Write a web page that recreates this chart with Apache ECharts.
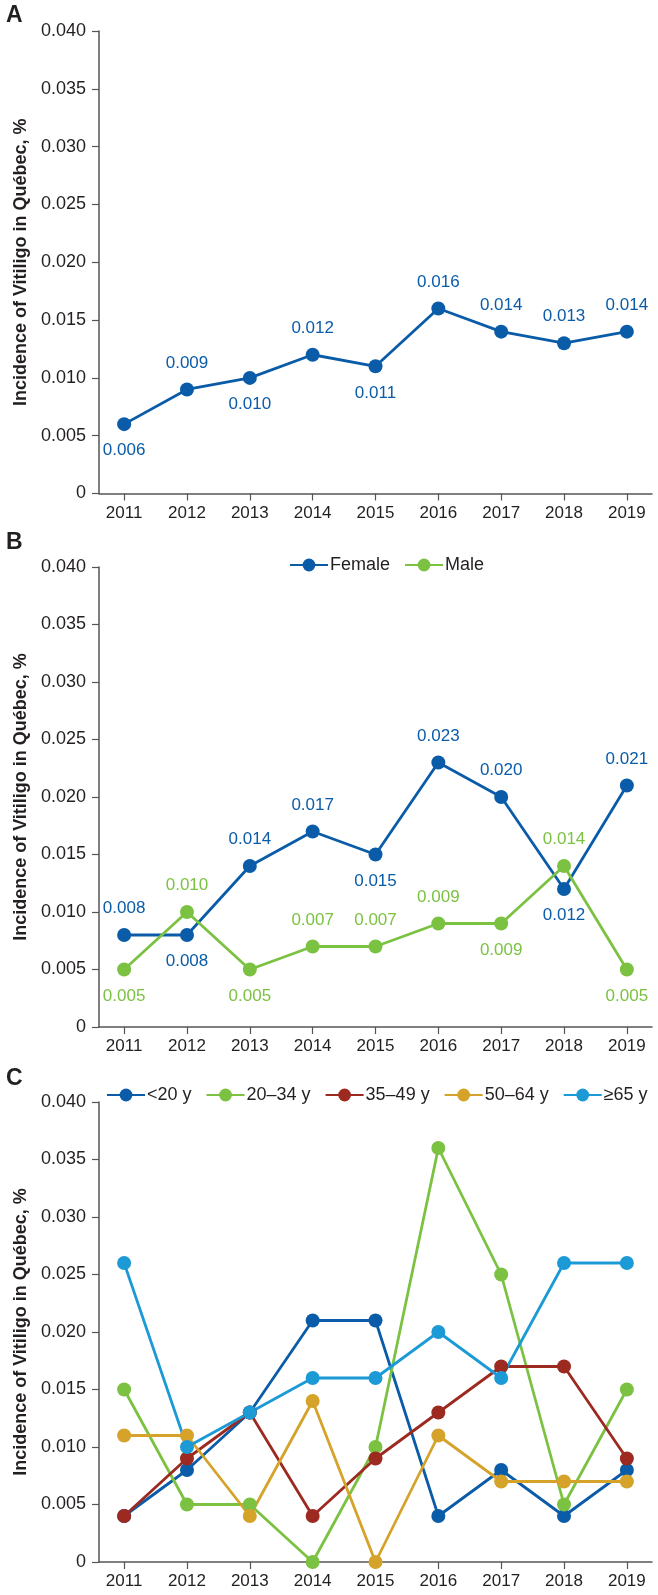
<!DOCTYPE html>
<html>
<head>
<meta charset="utf-8">
<script src="https://cdn.jsdelivr.net/npm/echarts@6/dist/echarts.min.js"></script>
<style>html,body{margin:0;padding:0;background:#fff}#c{width:658px;height:1595px}</style>
</head>
<body>
<div id="c"></div>
<script>
const years = [2011, 2012, 2013, 2014, 2015, 2016, 2017, 2018, 2019];
const yTicks = [0, 0.005, 0.010, 0.015, 0.020, 0.025, 0.030, 0.035, 0.040];

// Panel A – overall
const overall = [0.006, 0.009, 0.010, 0.012, 0.011, 0.016, 0.014, 0.013, 0.014];
const overallLabelPos = ['bottom','top','bottom','top','bottom','top','top','top','top'];

// Panel B – by sex
const female = [0.008, 0.008, 0.014, 0.017, 0.015, 0.023, 0.020, 0.012, 0.021];
const femaleLabelPos = ['top','bottom','top','top','bottom','top','top','bottom','top'];
const male = [0.005, 0.010, 0.005, 0.007, 0.007, 0.009, 0.009, 0.014, 0.005];
const maleLabelPos = ['bottom','top','bottom','top','top','top','bottom','top','bottom'];

// Panel C – by age group
const ageNames = ['<20 y', '20–34 y', '35–49 y', '50–64 y', '≥65 y'];
const ageUnder20 = [0.004, 0.008, 0.013, 0.021, 0.021, 0.004, 0.008, 0.004, 0.008];
const age20to34 = [0.015, 0.005, 0.005, 0.000, 0.010, 0.036, 0.025, 0.005, 0.015];
const age35to49 = [0.004, 0.009, 0.013, 0.004, 0.009, 0.013, 0.017, 0.017, 0.009];
const age50to64 = [0.011, 0.011, 0.004, 0.014, 0.000, 0.011, 0.007, 0.007, 0.007];
const age65plus = [0.026, 0.010, 0.013, 0.016, 0.016, 0.020, 0.016, 0.026, 0.026];

const DARKBLUE = '#0a5ca8', GREEN = '#7cc242', RED = '#9c2a20', GOLD = '#d5a22a', LIGHTBLUE = '#1b9ad6';
const FONT = 'Liberation Sans, Arial, Helvetica, sans-serif';
const TXT = '#231f20', AXIS = '#555555';

function pairs(vals) { return years.map((y, i) => [y, vals[i]]); }
function labelled(vals, pos) {
  return years.map((y, i) => ({
    value: [y, vals[i]],
    label: { position: pos[i] }
  }));
}

const grids = [
  { left: 99, right: 6, top: 31, height: 462.5 },
  { left: 99, right: 6, top: 567, height: 460 },
  { left: 99, right: 6, top: 1102, height: 460 }
];

function xAxis(idx) {
  return {
    gridIndex: idx, type: 'value', min: 2010.6, max: 2019.4,
    axisLine: { show: true, lineStyle: { color: AXIS, width: 1.5 } },
    axisTick: { show: true, customValues: years, length: 7, lineStyle: { color: AXIS, width: 1.2 } },
    axisLabel: { customValues: years, color: TXT, fontSize: 17, fontFamily: FONT, margin: 11, formatter: v => String(Math.round(v)) },
    splitLine: { show: false }
  };
}
function yAxis(idx) {
  return {
    gridIndex: idx, type: 'value', min: 0, max: 0.04, interval: 0.005,
    name: 'Incidence of Vitiligo in Québec, %', nameLocation: 'middle', nameGap: 68,
    nameTextStyle: { color: TXT, fontSize: 18, fontWeight: 'bold', fontFamily: FONT },
    axisLine: { show: true, lineStyle: { color: AXIS, width: 1.5 } },
    axisTick: { show: true, length: 7, lineStyle: { color: AXIS, width: 1.2 } },
    axisLabel: { color: TXT, fontSize: 18, fontFamily: FONT, margin: 13, formatter: v => v === 0 ? '0' : v.toFixed(3) },
    splitLine: { show: false }
  };
}

function lineSeries(name, data, color, xi, withLabels) {
  return {
    name, type: 'line', xAxisIndex: xi, yAxisIndex: xi, data,
    symbol: 'circle', symbolSize: 14, showAllSymbol: true,
    lineStyle: { color, width: 2.8 }, itemStyle: { color },
    label: withLabels ? { show: true, color, fontSize: 17, fontFamily: FONT, distance: 11, formatter: p => p.value[1].toFixed(3) } : { show: false },
    emphasis: { disabled: true }, animation: false, z: 3
  };
}

const chart = echarts.init(document.getElementById('c'), null, { renderer: 'canvas' });
chart.setOption({
  animation: false,
  backgroundColor: '#fff',
  textStyle: { fontFamily: FONT },
  grid: grids,
  xAxis: [xAxis(0), xAxis(1), xAxis(2)],
  yAxis: [yAxis(0), yAxis(1), yAxis(2)],
  legend: [
    {
      data: ['Female', 'Male'], left: 289, top: 556, padding: 0, itemWidth: 38, itemHeight: 16, itemGap: 14,
      textStyle: { color: TXT, fontSize: 18, fontFamily: FONT, padding: [0, 0, 0, -3] }
    },
    {
      data: ageNames, left: 106, top: 1086, width: 552, padding: 0, itemWidth: 38, itemHeight: 16, itemGap: 14,
      textStyle: { color: TXT, fontSize: 18, fontFamily: FONT, padding: [0, 0, 0, -3] }
    }
  ],
  graphic: [
    { type: 'text', left: 6, top: 4, style: { text: 'A', fontSize: 23, fontWeight: 'bold', fill: TXT, fontFamily: FONT } },
    { type: 'text', left: 6, top: 531, style: { text: 'B', fontSize: 23, fontWeight: 'bold', fill: TXT, fontFamily: FONT } },
    { type: 'text', left: 6, top: 1067, style: { text: 'C', fontSize: 23, fontWeight: 'bold', fill: TXT, fontFamily: FONT } }
  ],
  series: [
    lineSeries('Overall', labelled(overall, overallLabelPos), DARKBLUE, 0, true),
    lineSeries('Female', labelled(female, femaleLabelPos), DARKBLUE, 1, true),
    lineSeries('Male', labelled(male, maleLabelPos), GREEN, 1, true),
    lineSeries(ageNames[0], pairs(ageUnder20), DARKBLUE, 2, false),
    lineSeries(ageNames[1], pairs(age20to34), GREEN, 2, false),
    lineSeries(ageNames[2], pairs(age35to49), RED, 2, false),
    lineSeries(ageNames[3], pairs(age50to64), GOLD, 2, false),
    lineSeries(ageNames[4], pairs(age65plus), LIGHTBLUE, 2, false)
  ]
});
</script>
</body>
</html>
